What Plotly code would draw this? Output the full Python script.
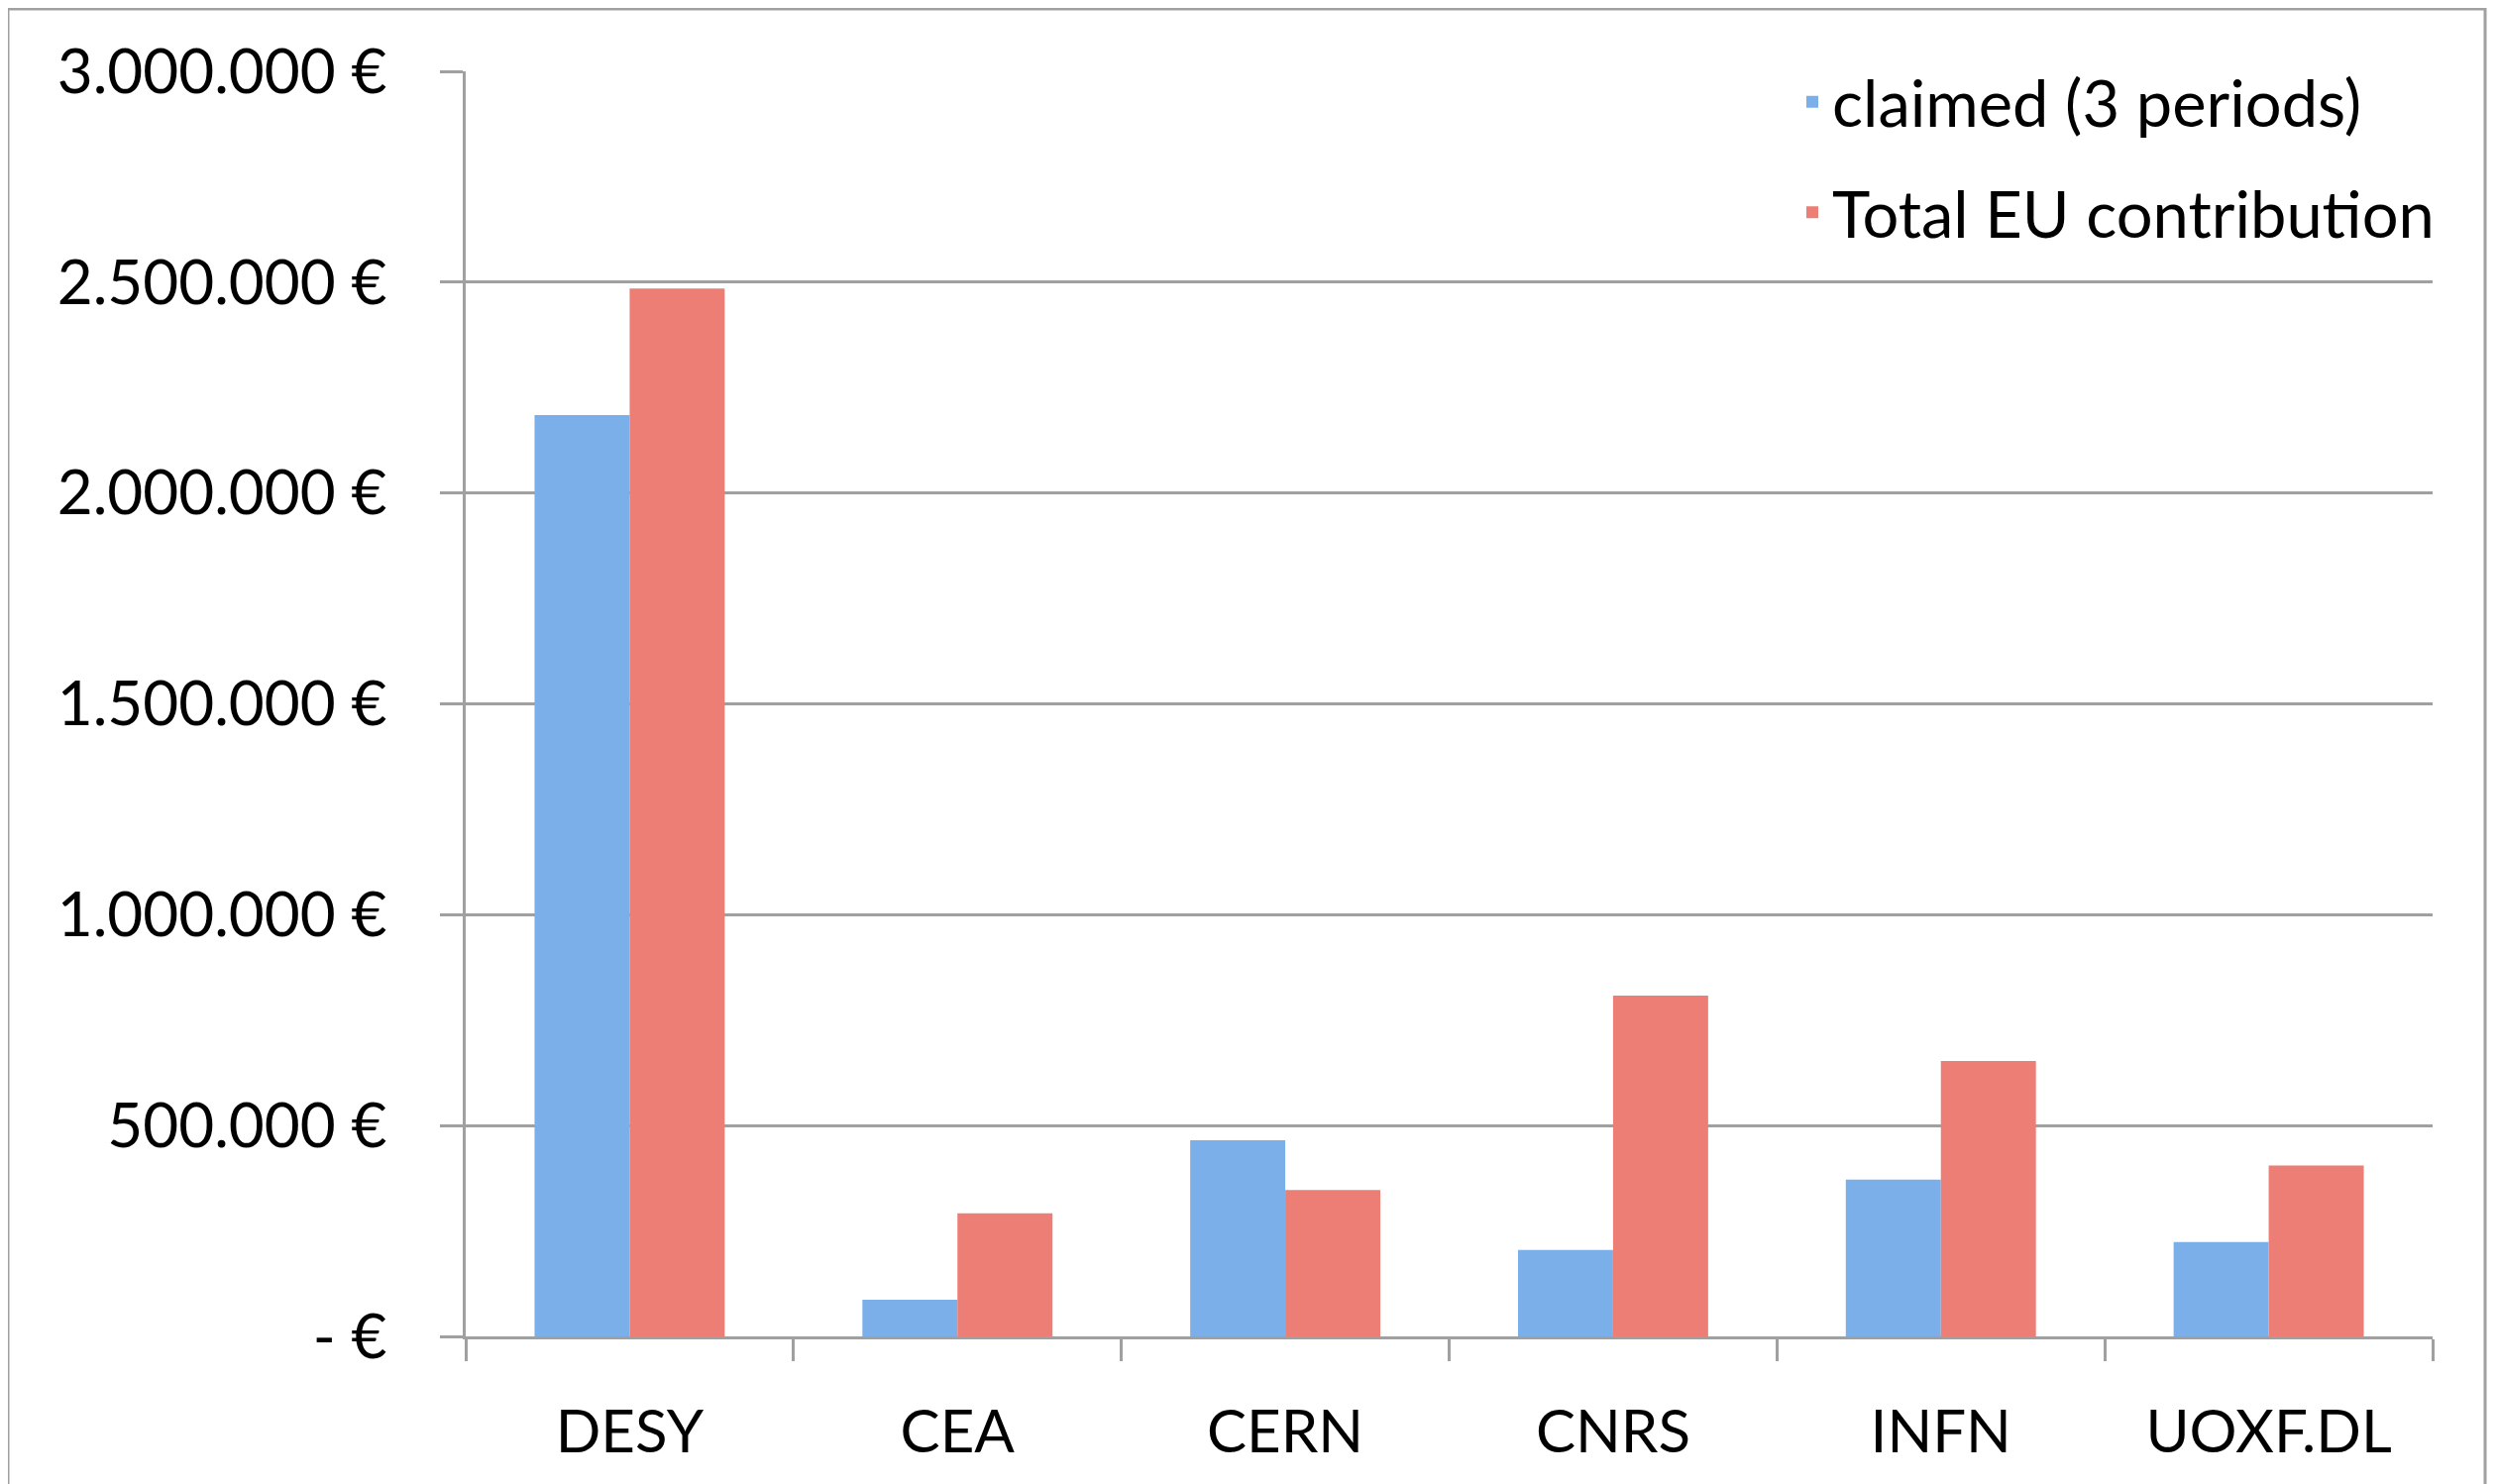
import plotly.graph_objects as go

categories = ["DESY", "CEA", "CERN", "CNRS", "INFN", "UOXF.DL"]
claimed = [2185000, 87000, 465000, 205000, 372000, 224000]
total_eu = [2485000, 292000, 347000, 808000, 653000, 405000]
series_names = ["claimed (3 periods)", "Total EU contribution"]
y_tick_values = [0, 500000, 1000000, 1500000, 2000000, 2500000, 3000000]
y_tick_labels = ["- €", "500.000 €", "1.000.000 €", "1.500.000 €",
                 "2.000.000 €", "2.500.000 €", "3.000.000 €"]

FONT = "Lato, 'Open Sans', sans-serif"
GREY = "#A0A0A0"

fig = go.Figure()
fig.add_trace(go.Bar(x=categories, y=claimed, name=series_names[0],
                     marker=dict(color="#7AAFEA", line=dict(width=0)),
                     legendgroup="a"))
fig.add_trace(go.Bar(x=categories, y=total_eu, name=series_names[1],
                     marker=dict(color="#EC7E76", line=dict(width=0)),
                     legendgroup="b"))

# page body has an 8px margin; figure sized/positioned accordingly
W, H = 2513, 1490
L, T = 462, 64
PR, PB = 2447, 1341          # plot right / bottom in figure pixels
R, B = W - PR, H - PB
pw, ph = PR - L, PB - T

fig.update_layout(
    width=W, height=H,
    margin=dict(l=L, r=R, t=T, b=B, pad=0),
    paper_bgcolor="white", plot_bgcolor="white",
    barmode="group", bargap=0.42, bargroupgap=0,
    font=dict(family=FONT, size=60, color="black"),
    showlegend=True,
    legend=dict(x=(1801 - L) / pw, y=1 + 18 / ph, xanchor="left", yanchor="top",
                font=dict(family=FONT, size=65, color="black"),
                bgcolor="rgba(0,0,0,0)", tracegroupgap=24,
                traceorder="grouped"),
    xaxis=dict(type="category", showline=True, linecolor=GREY, linewidth=3,
               ticks="outside", tickson="boundaries", ticklen=22, tickwidth=3,
               tickcolor=GREY, showgrid=False, ticklabelstandoff=42,
               tickfont=dict(family=FONT, size=60, color="black")),
    yaxis=dict(range=[0, 3000000], tickvals=y_tick_values, ticktext=y_tick_labels,
               showline=True, linecolor=GREY, linewidth=3,
               ticks="outside", ticklen=23, tickwidth=3, tickcolor=GREY,
               showgrid=True, gridcolor=GREY, gridwidth=3, zeroline=False,
               ticklabelstandoff=41,
               tickfont=dict(family=FONT, size=62, color="black")),
)

# outer frame around the chart
fig.add_shape(type="rect", xref="paper", yref="paper",
              x0=(0 - L) / pw, x1=(2500 - L) / pw,
              y0=-(B + 60) / ph, y1=(PB - 1) / ph,
              line=dict(color=GREY, width=3), fillcolor="rgba(0,0,0,0)", layer="below")

fig.write_html("out.html")
